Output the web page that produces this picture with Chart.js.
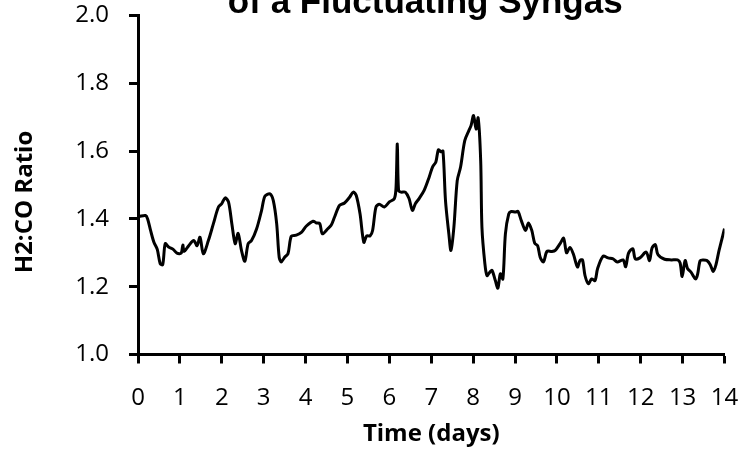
<!DOCTYPE html>
<html>
<head>
<meta charset="utf-8">
<title>H2:CO Ratio of a Fluctuating Syngas</title>
<script src="https://cdn.jsdelivr.net/npm/chart.js@4.4.1/dist/chart.umd.min.js"></script>
<style>
    html, body { margin: 0; padding: 0; background: #fff; }
    #wrap { width: 743px; height: 454px; }
</style>
</head>
<body>
<div id="wrap"><canvas id="syngasChart" width="743" height="454"></canvas></div>
<script>
// time in days
const days = [
    0.03, 0.18, 0.23, 0.30, 0.38, 0.46, 0.53, 0.59, 0.65, 0.73, 0.84, 0.93, 1.03, 1.07, 1.10, 1.21,
    1.33, 1.41, 1.48, 1.56, 1.68, 1.80, 1.92, 2.00, 2.08, 2.16, 2.24, 2.32, 2.39, 2.47, 2.55, 2.63,
    2.71, 2.83, 2.95, 3.03, 3.15, 3.23, 3.31, 3.37, 3.42, 3.50, 3.58, 3.66, 3.78, 3.90, 4.02, 4.18,
    4.26, 4.34, 4.40, 4.53, 4.61, 4.69, 4.81, 4.93, 5.05, 5.14, 5.21, 5.30, 5.39, 5.46, 5.54, 5.60,
    5.68, 5.76, 5.88, 6.00, 6.12, 6.16, 6.19, 6.22, 6.28, 6.38, 6.47, 6.55, 6.62, 6.71, 6.83, 6.95,
    7.03, 7.11, 7.17, 7.23, 7.28, 7.34, 7.42, 7.47, 7.54, 7.62, 7.70, 7.80, 7.90, 7.95, 8.01, 8.07,
    8.12, 8.18, 8.21, 8.28, 8.33, 8.40, 8.45, 8.53, 8.59, 8.65, 8.71, 8.77, 8.85, 8.91, 9.01, 9.07,
    9.15, 9.25, 9.32, 9.40, 9.47, 9.54, 9.60, 9.68, 9.76, 9.88, 9.96, 10.08, 10.16, 10.23, 10.31, 10.39,
    10.49, 10.55, 10.61, 10.67, 10.75, 10.83, 10.91, 10.97, 11.10, 11.22, 11.34, 11.44, 11.58, 11.64, 11.71, 11.81,
    11.87, 11.98, 12.13, 12.21, 12.27, 12.35, 12.41, 12.57, 12.73, 12.88, 12.94, 12.99, 13.06, 13.12, 13.20, 13.31,
    13.36, 13.42, 13.50, 13.58, 13.66, 13.73, 13.79, 13.87, 14.00
];

// H2:CO ratio
const ratio = [
    1.407, 1.410, 1.400, 1.366, 1.331, 1.310, 1.268, 1.265, 1.327, 1.317, 1.310, 1.299, 1.299, 1.323, 1.304, 1.321,
    1.336, 1.321, 1.346, 1.297, 1.336, 1.386, 1.435, 1.445, 1.462, 1.450, 1.386, 1.327, 1.357, 1.307, 1.275, 1.327,
    1.336, 1.370, 1.425, 1.467, 1.474, 1.454, 1.386, 1.287, 1.273, 1.287, 1.297, 1.349, 1.352, 1.360, 1.379, 1.393,
    1.388, 1.386, 1.356, 1.371, 1.381, 1.405, 1.440, 1.447, 1.464, 1.479, 1.469, 1.415, 1.331, 1.350, 1.350, 1.366,
    1.435, 1.443, 1.435, 1.450, 1.460, 1.494, 1.621, 1.484, 1.479, 1.479, 1.460, 1.425, 1.445, 1.460, 1.484, 1.523,
    1.553, 1.568, 1.604, 1.598, 1.600, 1.454, 1.356, 1.307, 1.375, 1.513, 1.553, 1.631, 1.661, 1.675, 1.705, 1.665,
    1.698, 1.572, 1.375, 1.268, 1.233, 1.243, 1.248, 1.218, 1.196, 1.238, 1.223, 1.356, 1.415, 1.422, 1.420, 1.422,
    1.395, 1.366, 1.388, 1.366, 1.328, 1.321, 1.287, 1.273, 1.304, 1.304, 1.307, 1.328, 1.343, 1.300, 1.316, 1.297,
    1.258, 1.277, 1.279, 1.233, 1.209, 1.223, 1.218, 1.253, 1.290, 1.285, 1.282, 1.273, 1.279, 1.259, 1.299, 1.312,
    1.282, 1.285, 1.302, 1.277, 1.314, 1.324, 1.295, 1.281, 1.279, 1.279, 1.270, 1.230, 1.277, 1.253, 1.243, 1.223,
    1.238, 1.277, 1.279, 1.277, 1.265, 1.245, 1.262, 1.307, 1.371
];

const xTicks = [0, 1, 2, 3, 4, 5, 6, 7, 8, 9, 10, 11, 12, 13, 14];
const yTicks = [1.0, 1.2, 1.4, 1.6, 1.8, 2.0];

const titleText = 'of a Fluctuating Syngas';
const xTitle = 'Time (days)';
const yTitle = 'H2:CO Ratio';

const points = days.map((d, i) => ({ x: d, y: ratio[i] }));

const tickFont = { family: '"Open Sans", sans-serif', size: 24, lineHeight: 1 };
const axisTitleFont = { family: '"Open Sans", sans-serif', size: 24, weight: 'bold' };

// chart title (half cut off at the top) and the y axis title, drawn by hand
const extraText = {
    id: 'extraText',
    afterDraw(chart) {
        const ctx = chart.ctx;
        const area = chart.chartArea;
        ctx.save();
        ctx.fillStyle = '#000';
        ctx.font = 'bold 35px "Liberation Sans", Arial, sans-serif';
        ctx.textAlign = 'center';
        ctx.textBaseline = 'alphabetic';
        ctx.fillText(titleText, (area.left + area.right) / 2 - 6, 13);

        ctx.font = 'bold 24px "Open Sans", sans-serif';
        ctx.textBaseline = 'middle';
        ctx.translate(25, (area.top + area.bottom) / 2 + 17);
        ctx.rotate(-Math.PI / 2);
        ctx.fillText(yTitle, 0, 0);
        ctx.restore();
    }
};

new Chart(document.getElementById('syngasChart').getContext('2d'), {
    type: 'line',
    data: {
        datasets: [{
            label: yTitle,
            data: points,
            borderColor: '#000',
            borderWidth: 3,
            pointRadius: 0,
            tension: 0.3,
            fill: false
        }]
    },
    options: {
        responsive: false,
        devicePixelRatio: 1,
        animation: false,
        layout: { padding: { top: 15.5, right: 18.5, left: 0, bottom: 0 } },
        plugins: {
            legend: { display: false },
            tooltip: { enabled: false }
        },
        scales: {
            x: {
                type: 'linear',
                min: 0,
                max: 14,
                afterFit: s => {
                    s.height = 99.5;
                    s.paddingLeft = 0;
                    s.paddingRight = 0;
                },
                afterBuildTicks: s => { s.ticks = xTicks.map(v => ({ value: v })); },
                border: { display: true, color: '#000', width: 3 },
                grid: { drawOnChartArea: false, drawTicks: true, tickLength: 9, tickWidth: 3, color: '#000' },
                ticks: { color: '#000', font: tickFont, padding: 23, maxRotation: 0, autoSkip: false },
                title: { display: true, text: xTitle, color: '#000', font: axisTitleFont, padding: { top: 0, bottom: 5 } }
            },
            y: {
                min: 1.0,
                max: 2.0,
                afterFit: s => {
                    s.width = 138;
                    s.paddingTop = 0;
                    s.paddingBottom = 0;
                },
                afterBuildTicks: s => { s.ticks = yTicks.map(v => ({ value: v })); },
                border: { display: true, color: '#000', width: 3 },
                grid: { drawOnChartArea: false, drawTicks: true, tickLength: 9, tickWidth: 3, color: '#000' },
                ticks: { color: '#000', font: tickFont, padding: 20, callback: v => v.toFixed(1) }
            }
        }
    },
    plugins: [extraText]
});
</script>
</body>
</html>
